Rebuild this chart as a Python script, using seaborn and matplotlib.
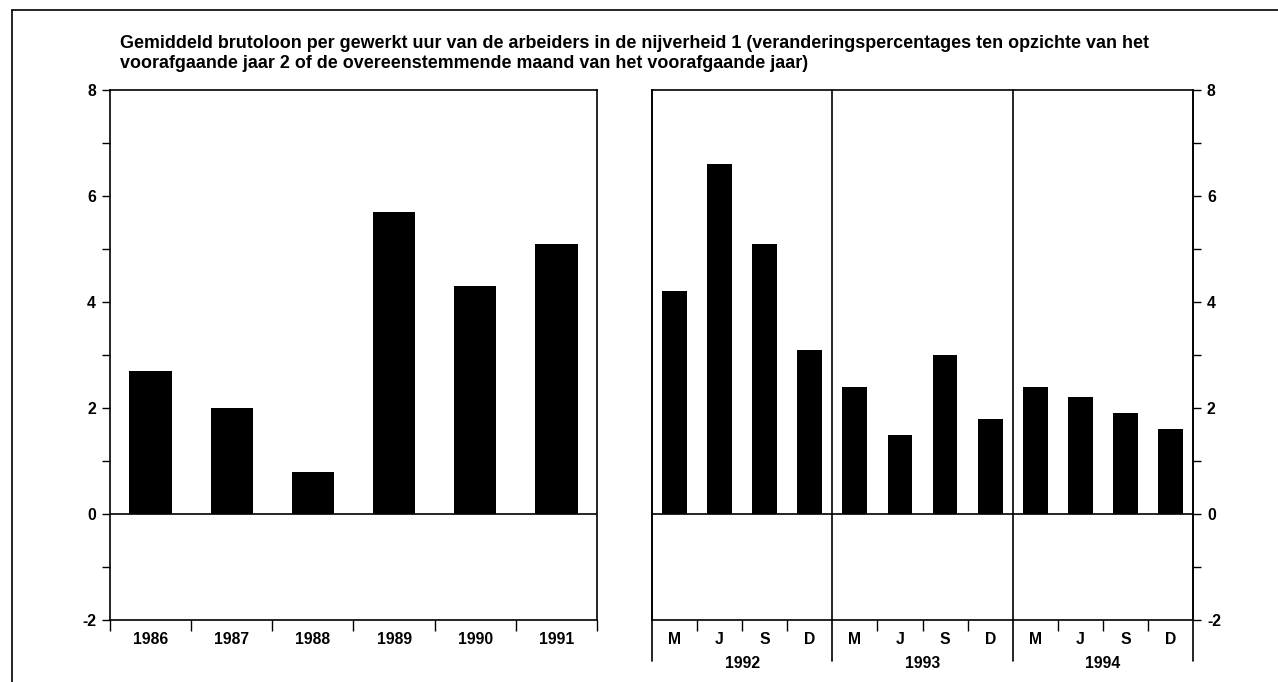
import matplotlib
matplotlib.use("Agg")
import matplotlib.pyplot as plt
import matplotlib.transforms as mtransforms
from matplotlib.ticker import FixedLocator
import seaborn as sns
import pandas as pd

# ---- data ----
years_left = ["1986", "1987", "1988", "1989", "1990", "1991"]
values_left = [2.7, 2.0, 0.8, 5.7, 4.3, 5.1]
years_right = ["1992", "1993", "1994"]
months = ["M", "J", "S", "D"]
values_right = [4.2, 6.6, 5.1, 3.1, 2.4, 1.5, 3.0, 1.8, 2.4, 2.2, 1.9, 1.6]
y_ticks = [-2, 0, 2, 4, 6, 8]
title_line1 = ("Gemiddeld brutoloon per gewerkt uur van de arbeiders in de nijverheid 1 "
               "(veranderingspercentages ten opzichte van het")
title_line2 = "voorafgaande jaar 2 of de overeenstemmende maand van het voorafgaande jaar)"

sns.set_theme(style="white")
plt.rcParams["font.family"] = ["Liberation Sans", "DejaVu Sans"]

W, H = 1278, 682
fig = plt.figure(figsize=(W / 100, H / 100), dpi=100)

def frac(x0, x1, ytop, ybot):
    return [x0 / W, (H - ybot) / H, (x1 - x0) / W, (ybot - ytop) / H]

axL = fig.add_axes(frac(110, 597, 90, 620))
axR = fig.add_axes(frac(652, 1193, 90, 620))

dfL = pd.DataFrame({"cat": years_left, "val": values_left})
right_cats = [f"{y}-{m}" for y in years_right for m in months]
dfR = pd.DataFrame({"cat": right_cats, "val": values_right})

sns.barplot(data=dfL, x="cat", y="val", order=years_left, color="black",
            saturation=1, width=0.52, ax=axL, edgecolor="black", linewidth=0)
sns.barplot(data=dfR, x="cat", y="val", order=right_cats, color="black",
            saturation=1, width=0.55, ax=axR, edgecolor="black", linewidth=0)

tick_font = dict(fontsize=11.3, fontweight="bold", color="black")
lw = 1.2

for ax, n in ((axL, len(years_left)), (axR, len(right_cats))):
    ax.set_xlim(-0.5, n - 0.5)
    ax.set_ylim(-2, 8)
    ax.set_xlabel("")
    ax.set_ylabel("")
    for s in ax.spines.values():
        s.set_visible(True)
        s.set_color("black")
        s.set_linewidth(lw)
    ax.axhline(0, color="black", lw=lw, zorder=3)
    ax.yaxis.set_major_locator(FixedLocator(y_ticks))
    ax.yaxis.set_minor_locator(FixedLocator([-1, 1, 3, 5, 7]))
    ax.tick_params(axis="y", which="major", length=6, width=1, color="black", pad=4)
    ax.tick_params(axis="y", which="minor", length=6, width=1, color="black")
    ax.set_yticklabels([str(t) for t in y_ticks], **tick_font)

# left panel: y on the left; x ticks at boundaries, labels at centers
axL.tick_params(axis="y", which="both", left=True, right=False, labelleft=True, labelright=False, direction="out")
axL.set_xticks([i - 0.5 for i in range(len(years_left) + 1)])
axL.set_xticklabels([])
axL.set_xticks(range(len(years_left)), minor=True)
axL.set_xticklabels(years_left, minor=True, **tick_font)
axL.tick_params(axis="x", which="major", length=8, width=1, color="black", bottom=True, direction="out")
axL.tick_params(axis="x", which="minor", length=0, pad=9)

# right panel: y on the right
axR.tick_params(axis="y", which="both", left=False, right=True, labelleft=False, labelright=True, direction="out")
axR.set_xticks([i - 0.5 for i in range(len(right_cats) + 1) if (i % 4) != 0])
axR.set_xticklabels([])
axR.tick_params(axis="x", which="major", length=8, width=1, color="black", bottom=True, direction="out")
axR.set_xticks(range(len(right_cats)), minor=True)
axR.set_xticklabels(months * len(years_right), minor=True, **tick_font)
axR.tick_params(axis="x", which="minor", length=0, pad=9)

# dividers and long boundary ticks
trans = mtransforms.blended_transform_factory(axR.transData, axR.transAxes)
for k in range(len(years_right) + 1):
    xb = 4 * k - 0.5
    axR.plot([xb, xb], [-0.078, 1], transform=trans, color="black", lw=lw,
             clip_on=False, zorder=4)
for k, y in enumerate(years_right):
    axR.text(4 * k + 1.5, -0.068, y, transform=trans, ha="center", va="top", **tick_font)

# title
title_font = dict(ha="left", va="center", fontsize=12.9, fontweight="bold", color="black")
fig.text(120 / W, 1 - 43 / H, title_line1, **title_font)
fig.text(120 / W, 1 - 63 / H, title_line2, **title_font)

# outer frame (top and left edges)
fig.add_artist(plt.Line2D([12 / W, 12 / W], [0, 1 - 10 / H], transform=fig.transFigure,
                          color="black", lw=1.2))
fig.add_artist(plt.Line2D([12 / W, 1], [1 - 10 / H, 1 - 10 / H], transform=fig.transFigure,
                          color="black", lw=1.2))

fig.savefig("out.png", dpi=100, facecolor="white")
